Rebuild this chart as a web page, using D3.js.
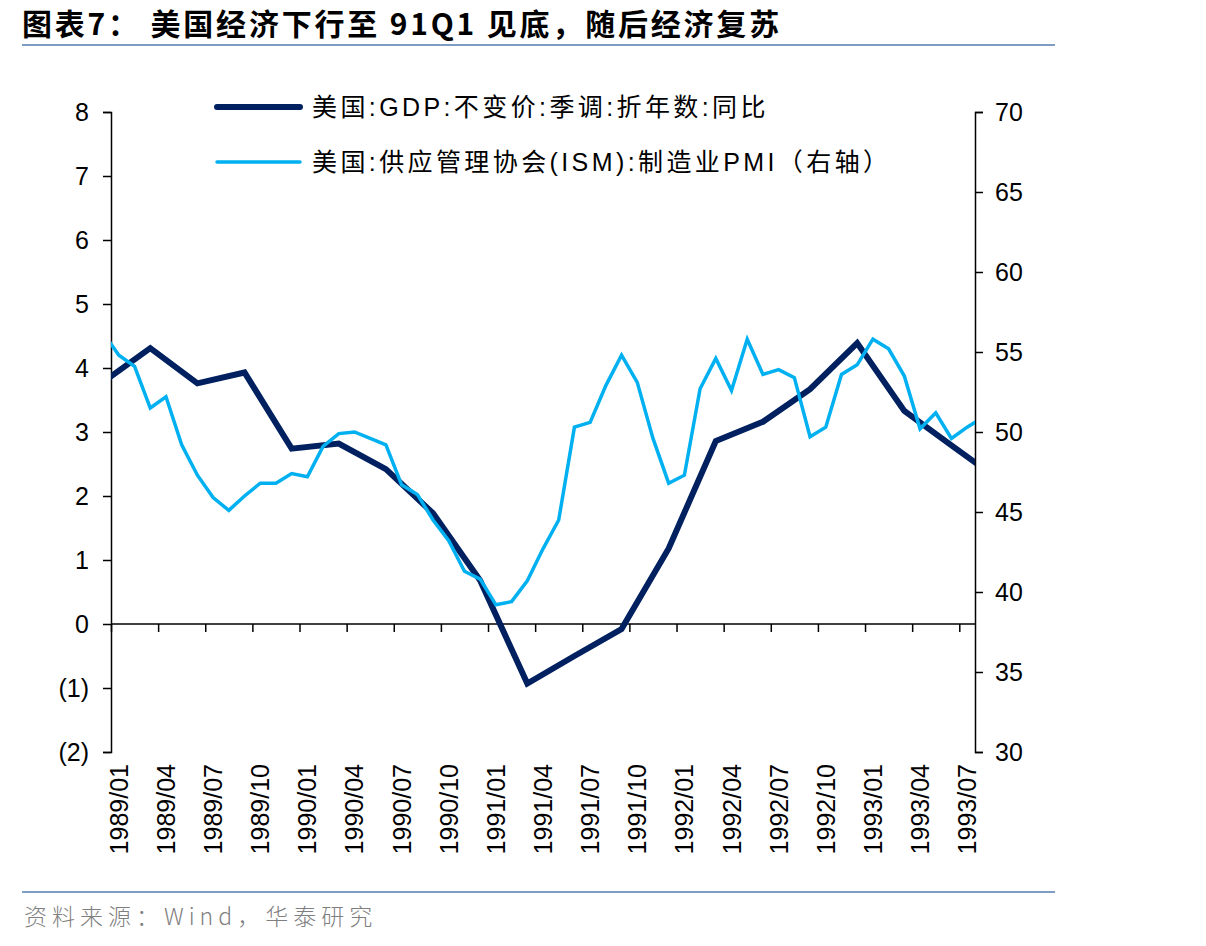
<!DOCTYPE html>
<html>
<head>
<meta charset="utf-8">
<script src="https://cdn.jsdelivr.net/npm/d3@7"></script>
<style>
  body { margin: 0; background: #fff; }
  svg { font-family: "Liberation Sans", Arial, "Noto Sans CJK SC", sans-serif; }
</style>
</head>
<body>
<svg id="chart" width="1206" height="946"></svg>
<script>
// monthly PMI, 1988/12 .. 1993/08 (first and last points fall outside the plot and get clipped)
var pmiStart = '1988/12';
var pmiValues = [56.2, 54.8, 54.1, 51.5, 52.2, 49.2, 47.3, 45.9, 45.1, 46.0, 46.8, 46.8, 47.4,
  47.2, 49.1, 49.9, 50.0, 49.6, 49.2, 46.7, 46.1, 44.5, 43.2, 41.3, 40.8,
  39.2, 39.4, 40.7, 42.7, 44.5, 50.3, 50.6, 52.9, 54.8, 53.1, 49.6, 46.8,
  47.3, 52.7, 54.6, 52.6, 55.8, 53.6, 53.9, 53.4, 49.7, 50.3, 53.6, 54.2,
  55.8, 55.2, 53.5, 50.2, 51.2, 49.6, 50.3, 50.9];

// quarterly GDP yoy, plotted at the quarter-end month
var gdpMonths = ['1988/12', '1989/03', '1989/06', '1989/09', '1989/12', '1990/03', '1990/06', '1990/09', '1990/12',
  '1991/03', '1991/06', '1991/09', '1991/12', '1992/03', '1992/06', '1992/09', '1992/12',
  '1993/03', '1993/06', '1993/09'];
var gdpValues = [3.78, 4.31, 3.76, 3.93, 2.74, 2.82, 2.42, 1.73, 0.68,
  -0.93, -0.50, -0.08, 1.18, 2.86, 3.16, 3.67, 4.39,
  3.33, 2.79, 2.26];

var xLabels = ['1989/01', '1989/04', '1989/07', '1989/10', '1990/01', '1990/04', '1990/07', '1990/10',
  '1991/01', '1991/04', '1991/07', '1991/10', '1992/01', '1992/04', '1992/07', '1992/10',
  '1993/01', '1993/04', '1993/07'];
var leftTicks = [-2, -1, 0, 1, 2, 3, 4, 5, 6, 7, 8];
var rightTicks = [30, 35, 40, 45, 50, 55, 60, 65, 70];

var gdpName = '美国:GDP:不变价:季调:折年数:同比';
var pmiName = '美国:供应管理协会(ISM):制造业PMI（右轴）';

var navy = '#002060';
var sky = '#00b0f0';

// month index counted from 1989/01
function monthIndex(s) {
  var p = s.split('/');
  return (+p[0] - 1989) * 12 + (+p[1] - 1);
}

var svg = d3.select('#chart');

var plot = { left: 111, right: 975, top: 112, bottom: 752 };

// category axis: month i occupies [i, i+1], points sit at the middle
var x = d3.scaleLinear().domain([0, 55]).range([plot.left, plot.right]);
var yL = d3.scaleLinear().domain([-2, 8]).range([plot.bottom, plot.top]);
var yR = d3.scaleLinear().domain([30, 70]).range([plot.bottom, plot.top]);

// title + rules
svg.append('text')
  .attr('x', 22).attr('y', 35)
  .attr('font-size', 30).attr('font-weight', 'bold')
  .attr('letter-spacing', 2.8)
  .attr('font-family', '"Noto Sans CJK SC", sans-serif')
  .attr('fill', '#000')
  .text('图表7：  美国经济下行至 91Q1 见底，随后经济复苏');

svg.append('line').attr('x1', 22).attr('x2', 1055).attr('y1', 45).attr('y2', 45)
  .attr('stroke', '#7f9cc4').attr('stroke-width', 2);
svg.append('line').attr('x1', 22).attr('x2', 1055).attr('y1', 892).attr('y2', 892)
  .attr('stroke', '#7f9cc4').attr('stroke-width', 2);

svg.append('text')
  .attr('x', 24).attr('y', 925)
  .attr('font-size', 23).attr('fill', '#7f7f7f')
  .attr('letter-spacing', 5)
  .attr('font-family', '"Noto Sans CJK SC", sans-serif')
  .attr('font-weight', 300)
  .text('资料来源：Wind，华泰研究');

// axes
var leftAxis = d3.axisLeft(yL).tickValues(leftTicks).tickSize(8).tickPadding(14)
  .tickFormat(function(d) { return d < 0 ? '(' + (-d) + ')' : d; });
var rightAxis = d3.axisRight(yR).tickValues(rightTicks).tickSize(8).tickPadding(12);

var gL = svg.append('g').attr('transform', 'translate(' + plot.left + ',0)').call(leftAxis);
var gR = svg.append('g').attr('transform', 'translate(' + plot.right + ',0)').call(rightAxis);

var tickIdx = xLabels.map(monthIndex);
var bottomAxis = d3.axisBottom(x).tickValues(tickIdx).tickSize(8).tickFormat('');
var gX = svg.append('g').attr('transform', 'translate(0,' + yL(0) + ')').call(bottomAxis);

[gL, gR, gX].forEach(function(g) {
  g.select('.domain').attr('stroke', '#000').attr('stroke-width', 1.5);
  g.selectAll('.tick line').attr('stroke', '#000').attr('stroke-width', 1.5);
  g.selectAll('.tick text').attr('font-size', 25).attr('fill', '#000')
    .attr('font-family', '"Liberation Sans", Arial, sans-serif');
});
gX.select('.domain').attr('d', 'M' + plot.left + ',0H' + plot.right);

// rotated date labels
svg.append('g').selectAll('text')
  .data(xLabels)
  .enter()
  .append('text')
  .attr('transform', function(d) {
    return 'translate(' + (x(monthIndex(d) + 0.5) + 9) + ',' + (plot.bottom + 12) + ') rotate(-90)';
  })
  .attr('text-anchor', 'end')
  .attr('font-size', 25)
  .attr('fill', '#000')
  .text(function(d) { return d; });

// lines, clipped to the plot area
svg.append('clipPath').attr('id', 'clip')
  .append('rect')
  .attr('x', plot.left).attr('y', 0)
  .attr('width', plot.right - plot.left).attr('height', 946);

var pmiData = pmiValues.map(function(v, i) {
  return { m: monthIndex(pmiStart) + i, v: v };
});
var gdpData = gdpMonths.map(function(m, i) {
  return { m: monthIndex(m), v: gdpValues[i] };
});

var lines = svg.append('g').attr('clip-path', 'url(#clip)');

lines.append('path')
  .datum(gdpData)
  .attr('fill', 'none')
  .attr('stroke', navy)
  .attr('stroke-width', 6)
  .attr('d', d3.line().x(d => x(d.m + 0.5)).y(d => yL(d.v)));

lines.append('path')
  .datum(pmiData)
  .attr('fill', 'none')
  .attr('stroke', sky)
  .attr('stroke-width', 3.5)
  .attr('d', d3.line().x(d => x(d.m + 0.5)).y(d => yR(d.v)));

// legend
var legend = svg.append('g');
var legendItems = [
  { name: gdpName, color: navy, width: 6, y: 107 },
  { name: pmiName, color: sky, width: 3.5, y: 162 }
];
legendItems.forEach(function(d) {
  legend.append('line')
    .attr('x1', 217).attr('x2', 300).attr('y1', d.y).attr('y2', d.y)
    .attr('stroke', d.color).attr('stroke-width', d.width).attr('stroke-linecap', 'round');
  legend.append('text')
    .attr('x', 312).attr('y', d.y + 9)
    .attr('font-size', 25).attr('fill', '#000')
    .attr('letter-spacing', 3.4)
    .text(d.name);
});
</script>
</body>
</html>
